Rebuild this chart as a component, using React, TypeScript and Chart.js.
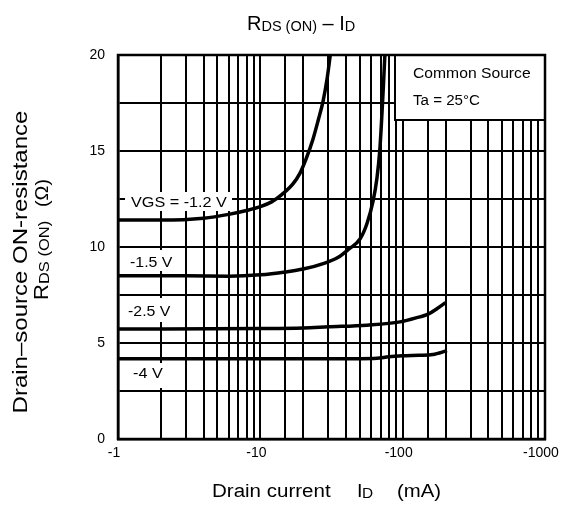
import React, { useEffect, useRef } from 'react';
import { Chart, registerables } from 'chart.js';

Chart.register(...registerables);

const FONT = '"Liberation Sans", Arial, Helvetica, sans-serif';

// X axis: |ID| in mA (drawn as negative labels), log scale
const xDecades = [1, 10, 100, 1000];
const yMin = 0;
const yMax = 20;
const yStep = 2.5;

// VGS = -1.2 V
const id12 = [1, 2, 4, 6, 8, 10, 12, 14, 17, 19, 21, 23.4, 25.5, 27.6, 29.5, 31];
const r12 = [11.4, 11.4, 11.5, 11.7, 11.9, 12.1, 12.35, 12.7, 13.3, 13.85, 14.6, 15.6, 16.6, 17.6, 18.8, 20];

// VGS = -1.5 V
const id15 = [1, 3, 6, 10, 15, 20, 28, 35, 42, 50, 56, 62, 66, 69, 71, 73, 75];
const r15 = [8.5, 8.5, 8.48, 8.55, 8.7, 8.85, 9.15, 9.45, 9.9, 10.4, 11.2, 12.4, 13.6, 15, 16.5, 18.2, 20];

// VGS = -2.5 V
const id25 = [1, 10, 20, 30, 56, 96, 130, 151, 175, 200];
const r25 = [5.73, 5.75, 5.78, 5.84, 5.93, 6.1, 6.35, 6.5, 6.8, 7.1];

// VGS = -4 V
const id40 = [1, 10, 50, 66, 80, 100, 130, 163, 205];
const r40 = [4.18, 4.18, 4.18, 4.2, 4.28, 4.33, 4.36, 4.4, 4.6];

const seriesLabels = ['VGS = -1.2 V', '-1.5 V', '-2.5 V', '-4 V'];

type Seg = { t: string; size: number; dy?: number };

function drawSegs(
  ctx: CanvasRenderingContext2D,
  segs: Seg[],
  x: number,
  y: number,
  align: 'left' | 'center',
  sx: number
) {
  const widths = segs.map((s) => {
    ctx.font = `${s.size}px ${FONT}`;
    return ctx.measureText(s.t).width;
  });
  const total = widths.reduce((a, b) => a + b, 0);
  ctx.save();
  ctx.translate(x, y);
  ctx.scale(sx, 1);
  ctx.textAlign = 'left';
  ctx.textBaseline = 'alphabetic';
  ctx.fillStyle = '#000';
  let cx = align === 'center' ? -total / 2 : 0;
  segs.forEach((s, i) => {
    ctx.font = `${s.size}px ${FONT}`;
    ctx.fillText(s.t, cx, s.dy || 0);
    cx += widths[i];
  });
  ctx.restore();
}

const annotPlugin = {
  id: 'annot',
  beforeDatasetsDraw(chart: any) {
    const ctx: CanvasRenderingContext2D = chart.ctx;
    const a = chart.chartArea;
    ctx.save();
    // label boxes (white, covering grid)
    ctx.fillStyle = '#fff';
    ctx.fillRect(125, 192, 107, 19);
    ctx.fillRect(125, 250, 53, 21);
    ctx.fillRect(123, 298, 55, 24);
    ctx.fillRect(128, 363, 40, 25);
    drawSegs(ctx, [{ t: seriesLabels[0], size: 15 }], 131, 207, 'left', 1.08);
    drawSegs(ctx, [{ t: seriesLabels[1], size: 15 }], 130, 267, 'left', 1.06);
    drawSegs(ctx, [{ t: seriesLabels[2], size: 15 }], 128, 316, 'left', 1.06);
    drawSegs(ctx, [{ t: seriesLabels[3], size: 15 }], 133, 378, 'left', 1.08);
    // condition box
    ctx.fillStyle = '#fff';
    ctx.fillRect(395, a.top, a.right - 395, 120 - a.top);
    ctx.strokeStyle = '#000';
    ctx.lineWidth = 2;
    ctx.strokeRect(395, a.top, a.right - 395, 120 - a.top);
    drawSegs(ctx, [{ t: 'Common Source', size: 14 }], 413, 78, 'left', 1.12);
    drawSegs(ctx, [{ t: 'Ta = 25°C', size: 14 }], 413, 105, 'left', 1.08);
    // outer frame
    ctx.lineWidth = 2.5;
    ctx.strokeRect(a.left, a.top, a.right - a.left, a.bottom - a.top);
    ctx.restore();
  },
  afterDraw(chart: any) {
    const ctx: CanvasRenderingContext2D = chart.ctx;
    const xs = chart.scales.x;
    ctx.save();
    // x tick labels
    xDecades.forEach((v) => {
      const px = xs.getPixelForValue(v);
      drawSegs(ctx, [{ t: '-' + v, size: 14 }], px - 4, 457, 'center', 1.0);
    });
    // title
    drawSegs(
      ctx,
      [
        { t: 'R', size: 20 },
        { t: 'DS (ON)', size: 14.5, dy: 1 },
        { t: ' \u2013 I', size: 20 },
        { t: 'D', size: 14.5, dy: 1 },
      ],
      247,
      30,
      'left',
      1.0
    );
    // x title
    drawSegs(ctx, [{ t: 'Drain current', size: 18 }], 212, 497, 'left', 1.14);
    drawSegs(ctx, [{ t: 'I', size: 18 }], 357, 497, 'left', 1.1);
    drawSegs(ctx, [{ t: 'D', size: 14 }], 362, 498, 'left', 1.1);
    drawSegs(ctx, [{ t: '(mA)', size: 18 }], 397, 497, 'left', 1.13);
    // y title
    ctx.save();
    ctx.translate(27, 262);
    ctx.rotate(-Math.PI / 2);
    drawSegs(ctx, [{ t: 'Drain\u2013source ON-resistance', size: 20 }], 0, 0, 'center', 1.2);
    ctx.restore();
    ctx.save();
    ctx.translate(48, 300);
    ctx.rotate(-Math.PI / 2);
    drawSegs(
      ctx,
      [
        { t: 'R', size: 20 },
        { t: 'DS (ON)', size: 15, dy: 1 },
      ],
      0,
      0,
      'left',
      1.1
    );
    drawSegs(ctx, [{ t: '(\u03A9)', size: 18 }], 93, 0, 'left', 1.1);
    ctx.restore();
    ctx.restore();
  },
};

function toPts(xs: number[], ys: number[]) {
  return xs.map((x, i) => ({ x, y: ys[i] }));
}

export default function App() {
  const ref = useRef<HTMLCanvasElement | null>(null);
  useEffect(() => {
    if (!ref.current) return;
    const line = (data: { x: number; y: number }[]) => ({
      data,
      borderColor: '#000',
      borderWidth: 3.5,
      pointRadius: 0,
      fill: false,
      cubicInterpolationMode: 'monotone' as const,
    });
    const chart = new Chart(ref.current, {
      type: 'line',
      data: {
        datasets: [
          line(toPts(id12, r12)),
          line(toPts(id15, r15)),
          line(toPts(id25, r25)),
          line(toPts(id40, r40)),
        ],
      },
      options: {
        responsive: false,
        animation: false,
        events: [],
        layout: { padding: { top: 55, right: 17, left: 0, bottom: 0 } },
        plugins: { legend: { display: false }, tooltip: { enabled: false }, title: { display: false } },
        scales: {
          x: {
            type: 'logarithmic',
            min: xDecades[0],
            max: xDecades[xDecades.length - 1],
            grid: { color: '#000', lineWidth: 2, drawTicks: false },
            border: { color: '#000', width: 2.5 },
            ticks: { display: false, autoSkip: false },
            afterFit: (s: any) => {
              s.height = 66;
            },
          },
          y: {
            min: yMin,
            max: yMax,
            grid: { color: '#000', lineWidth: 2, drawTicks: false },
            border: { color: '#000', width: 2.5 },
            ticks: {
              stepSize: yStep,
              autoSkip: false,
              padding: 13,
              color: '#000',
              font: { family: FONT, size: 14 },
              callback: (v: any) => (Number(v) % 5 === 0 ? String(v) : ''),
            },
            afterFit: (s: any) => {
              s.width = 118;
            },
          },
        },
      },
      plugins: [annotPlugin],
    });
    return () => chart.destroy();
  }, []);
  return (
    <div style={{ position: 'absolute', left: 0, top: 0, width: 562, height: 505, background: '#fff' }}>
      <canvas ref={ref} width={562} height={505} />
    </div>
  );
}
